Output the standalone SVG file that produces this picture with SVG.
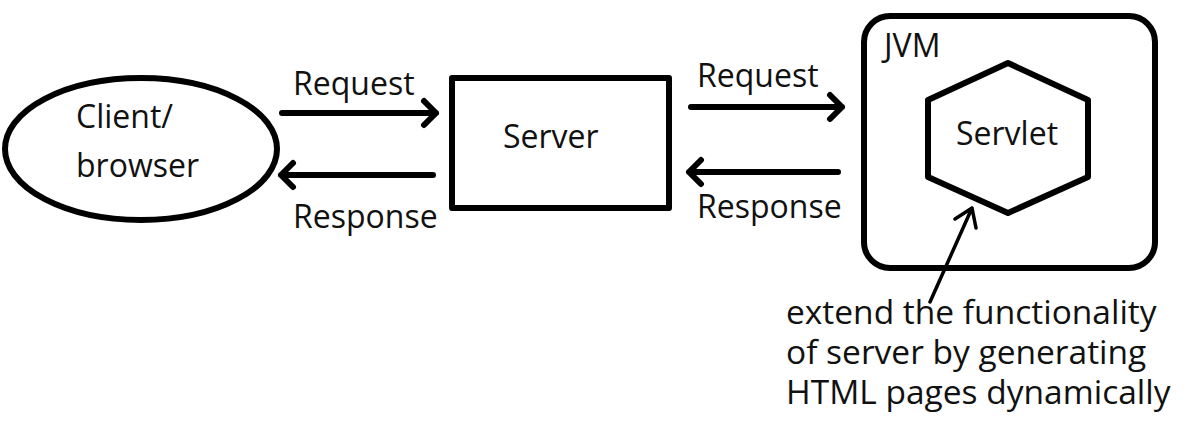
<svg xmlns="http://www.w3.org/2000/svg" width="1201" height="442" viewBox="0 0 1201 442">
<style>
.shape{fill:none;stroke:#000;stroke-width:6;stroke-linejoin:round}
.lbl{font-family:"Open Sans","Liberation Sans",sans-serif;font-size:32px;fill:#111}
.big{font-size:33.5px}
.arr{fill:none;stroke:#000;stroke-width:6;stroke-linecap:round;stroke-linejoin:round}
.thin{fill:none;stroke:#000;stroke-width:3.5;stroke-linecap:round;stroke-linejoin:round}
</style>
<rect width="1201" height="442" fill="#fff"/>
<g id="client">
<ellipse class="shape" cx="141" cy="149" rx="136" ry="71"/>
<text class="lbl" x="76" y="128">Client/</text>
<text class="lbl" x="76" y="177">browser</text>
</g>
<g id="server">
<rect class="shape" x="452" y="78" width="217" height="130"/>
<text class="lbl" x="503" y="148">Server</text>
</g>
<g id="jvm">
<rect class="shape" x="864" y="16" width="291" height="252" rx="26"/>
<text class="lbl" x="884" y="57">JVM</text>
</g>
<g id="servlet">
<polygon class="shape" points="1008,63 1088,100 1088,177 1008,213 928,177 928,100"/>
<text class="lbl" x="956" y="145">Servlet</text>
</g>
<g id="note">
<text class="lbl big" x="786" y="324">extend the functionality</text>
<text class="lbl big" x="786" y="364">of server by generating</text>
<text class="lbl big" x="786" y="404">HTML pages dynamically</text>
</g>
<g id="connectors">
<path class="arr" d="M282,113 H436 M424,101 L436,113 L424,125"/>
<text class="lbl" x="293" y="95">Request</text>
<path class="arr" d="M433,175 H281 M293,163 L281,175 L293,187"/>
<text class="lbl" x="293" y="228">Response</text>
<path class="arr" d="M691,107 H842 M830,95 L842,107 L830,119"/>
<text class="lbl" x="697" y="87">Request</text>
<path class="arr" d="M838,172 H689 M701,160 L689,172 L701,184"/>
<text class="lbl" x="697" y="218">Response</text>
<path class="thin" d="M930,302 L972,208 M955,219 L972,208 L976,228"/>
</g>
</svg>
